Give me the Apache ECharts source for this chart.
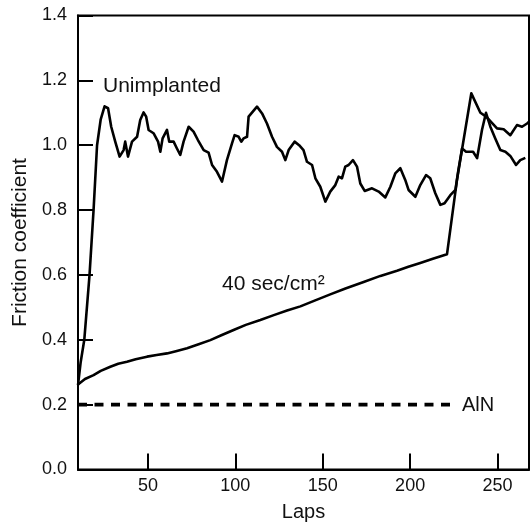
<!DOCTYPE html>
<html>
<head>
<meta charset="utf-8">
<script src="https://cdn.jsdelivr.net/npm/echarts@6/dist/echarts.min.js"></script>
<style>
html,body{margin:0;padding:0;background:#fff;}
#chart{width:531px;height:522px;}
</style>
</head>
<body>
<div id="chart"></div>
<script>
// Data (laps, friction coefficient)
const unimplantedLaps = [10,11.5,13.6,16.6,18.9,20.9,23,25.2,27.2,29,31.3,33.8,36.1,37,38.6,40.9,43.8,45.6,47.5,49,50.4,53.2,55.8,57.1,58.4,60.9,62.2,64.7,66.6,68.5,70.4,73.3,76.1,78.6,81.9,84.7,86.7,89.5,92.4,95.2,98.1,99.6,101.9,103.4,104.7,106.7,107.6,112.4,115.3,118.1,121,123.8,126.7,128.6,130.5,133.9,136.5,139,141,143.9,145.8,148.6,151.5,154.3,157.2,159.1,161,162.9,164.8,167.3,169.6,171.5,174,178.2,182,185.8,188.7,191.5,194.4,197.2,199.1,203,205.8,209.1,211.5,214.4,217.3,219.7,223,225.9,227.5,229.7,232,236,238.3,241.1,243.4,245.9,248.7,251.6,254.5,257.3,260.6,263,265.9];
const unimplantedValues = [0.26,0.33,0.40,0.60,0.80,1.00,1.08,1.12,1.114,1.057,1.011,0.965,0.985,1.011,0.965,1.011,1.026,1.078,1.101,1.088,1.047,1.037,1.011,0.98,1.021,1.047,1.011,1.011,0.99,0.97,1.011,1.057,1.042,1.016,0.985,0.977,0.939,0.918,0.888,0.954,1.006,1.031,1.026,1.011,1.021,1.026,1.088,1.119,1.098,1.067,1.026,0.995,0.98,0.954,0.985,1.011,1.0,0.985,0.949,0.939,0.898,0.872,0.826,0.857,0.877,0.903,0.898,0.934,0.939,0.954,0.934,0.882,0.859,0.867,0.857,0.839,0.872,0.913,0.929,0.893,0.862,0.841,0.877,0.908,0.898,0.852,0.816,0.821,0.846,0.862,0.92,0.99,0.98,0.98,0.96,1.047,1.10,1.057,1.021,0.985,0.98,0.967,0.939,0.954,0.961];

const implantedLaps = [10,14,18.9,23,28.5,33,38,43,49.5,55,60.9,66,72.4,79,85.7,92,99,106,114.3,122,129.6,137.2,145,154.3,163,173.4,183,192.5,199,205.8,213,221.1,226.8,235,240.2,243.5,249.7,253.5,257.3,261.1,264,266.9,268];
const implantedValues = [0.262,0.279,0.291,0.304,0.317,0.326,0.332,0.340,0.348,0.353,0.358,0.365,0.374,0.386,0.399,0.414,0.43,0.446,0.461,0.476,0.49,0.503,0.52,0.54,0.558,0.578,0.597,0.613,0.625,0.637,0.65,0.664,0.893,1.16,1.10,1.088,1.052,1.049,1.031,1.062,1.057,1.067,1.072];

const alnLaps = [10,225];
const alnValues = [0.2,0.2];

const xTicks = [50,100,150,200,250];
const seriesLabels = ['Unimplanted','40 sec/cm²','AlN'];

function pairs(xs, ys){ return xs.map((x,i)=>[x, ys[i]]); }

const chart = echarts.init(document.getElementById('chart'), null, {renderer:'canvas'});
const font = 'Liberation Sans, Arial, Helvetica, sans-serif';
chart.setOption({
  animation:false,
  backgroundColor:'#fff',
  textStyle:{fontFamily:font},
  grid:{left:78, top:15.5, width:451, bottom:52.5, show:true, borderColor:'#000', borderWidth:2, containLabel:false, outerBoundsMode:'none'},
  xAxis:{
    type:'value', min:10, max:268,
    name:'Laps', nameLocation:'middle', nameGap:33,
    nameTextStyle:{fontSize:20, color:'#111', fontFamily:font},
    axisLine:{show:true, lineStyle:{color:'#000', width:2}},
    axisTick:{show:true, inside:true, length:16, lineStyle:{color:'#000', width:2}, customValues:xTicks},
    axisLabel:{fontSize:18, color:'#111', margin:8, fontFamily:font, customValues:xTicks},
    splitLine:{show:false}
  },
  yAxis:{
    type:'value', min:0, max:1.4, interval:0.2,
    name:'Friction coefficient', nameLocation:'middle', nameGap:45,
    nameTextStyle:{fontSize:21, color:'#111', fontFamily:font},
    axisLine:{show:true, lineStyle:{color:'#000', width:2}},
    axisTick:{show:true, inside:true, length:15, lineStyle:{color:'#000', width:2}},
    axisLabel:{fontSize:18, color:'#111', margin:11, fontFamily:font, formatter:v=>v.toFixed(1)},
    splitLine:{show:false}
  },
  series:[
    {name:seriesLabels[0], type:'line', data:pairs(unimplantedLaps, unimplantedValues), symbol:'none', lineStyle:{color:'#000', width:2.6, join:'round'}},
    {name:seriesLabels[1], type:'line', data:pairs(implantedLaps, implantedValues), symbol:'none', lineStyle:{color:'#000', width:2.6, join:'round'}},
    {name:seriesLabels[2], type:'line', data:pairs(alnLaps, alnValues), symbol:'none', lineStyle:{color:'#000', width:3.8, type:[9,7.5], cap:'butt'}}
  ],
  graphic:[
    {type:'text', left:103, top:76, style:{text:seriesLabels[0], font:'21px '+font, fill:'#111'}},
    {type:'text', left:222, top:274, style:{text:seriesLabels[1], font:'21px '+font, fill:'#111'}},
    {type:'text', left:462, top:395, style:{text:seriesLabels[2], font:'20px '+font, fill:'#111'}}
  ]
});
</script>
</body>
</html>
